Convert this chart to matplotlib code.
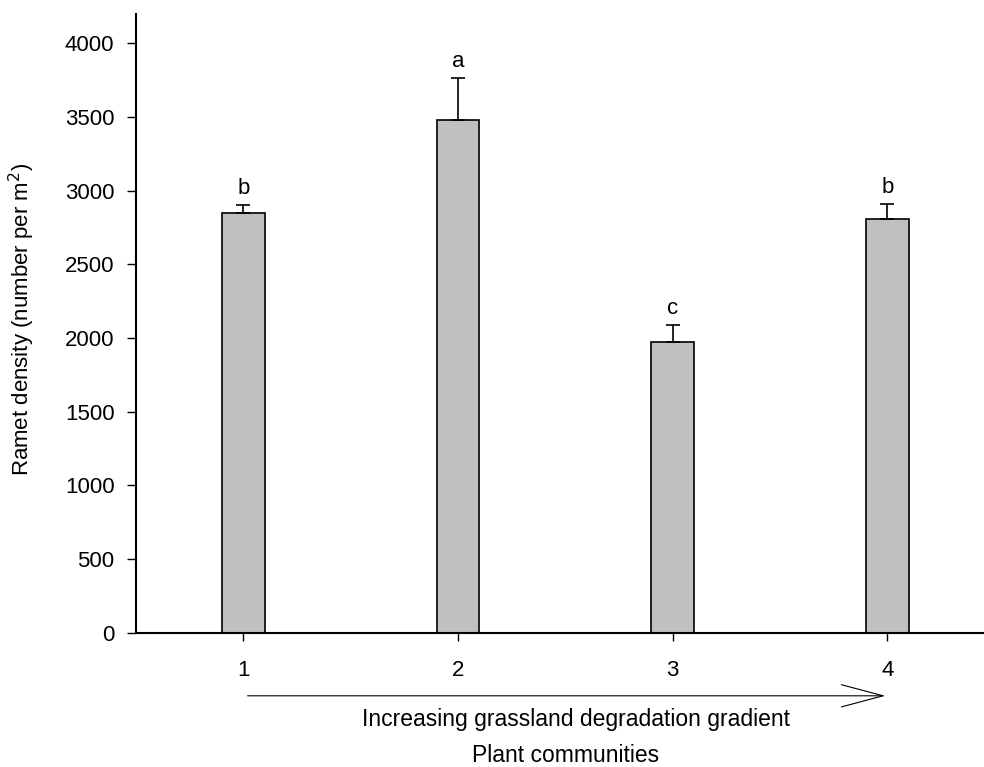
import matplotlib
matplotlib.use('Agg')
import matplotlib.pyplot as plt

# Ramet density per plant community
communities = [1, 2, 3, 4]
density = [2847, 3480, 1971, 2808]
density_se = [59, 288, 118, 100]
letters = ['b', 'a', 'c', 'b']

plt.rcParams['font.family'] = ['Liberation Sans', 'DejaVu Sans']
plt.rcParams['font.size'] = 16

fig = plt.figure(figsize=(9.84, 7.67), dpi=100)
ax = fig.add_axes([0.1382, 0.1751, 0.8618, 0.8066])

ax.bar(communities, density, width=0.2, color='#c0c0c0', edgecolor='black', linewidth=1.2,
       yerr=[[0] * 4, density_se], error_kw=dict(ecolor='black', elinewidth=1.2, capsize=4.8, capthick=1.2))

# Significance letters above the error bars
for x, y, se, lab in zip(communities, density, density_se, letters):
    ax.annotate(lab, (x, y + se), xytext=(0, 8), textcoords='offset points',
                ha='center', va='baseline', fontsize=16)

ax.set_xlim(0.5, 4.45)
ax.set_ylim(0, 4200)
ax.set_xticks(communities)
ax.set_yticks(range(0, 4001, 500))
for side in ['top', 'right']:
    ax.spines[side].set_visible(False)
for side in ['left', 'bottom']:
    ax.spines[side].set_linewidth(1.5)
ax.tick_params(axis='y', direction='out', length=6.5, width=1, pad=9)
ax.tick_params(axis='x', direction='out', length=6, width=1, pad=14)

ax.set_ylabel('Ramet density (number per m$^2$)', fontsize=16)
ax.yaxis.set_label_coords(-0.117, 0.507)

# Degradation gradient arrow below the x axis
trans = ax.get_xaxis_transform()
ax.annotate('', xy=(3.99, -0.102), xytext=(1.02, -0.102), xycoords=trans, textcoords=trans,
            annotation_clip=False,
            arrowprops=dict(arrowstyle='->, head_length=3, head_width=0.8', mutation_scale=10,
                            lw=0.8, color='black', shrinkA=0, shrinkB=0))
ax.text(0.519, -0.141, 'Increasing grassland degradation gradient', transform=ax.transAxes,
        ha='center', va='center', fontsize=16.5)
ax.text(0.506, -0.199, 'Plant communities', transform=ax.transAxes,
        ha='center', va='center', fontsize=16.5)

fig.savefig('out.png', dpi=100)
